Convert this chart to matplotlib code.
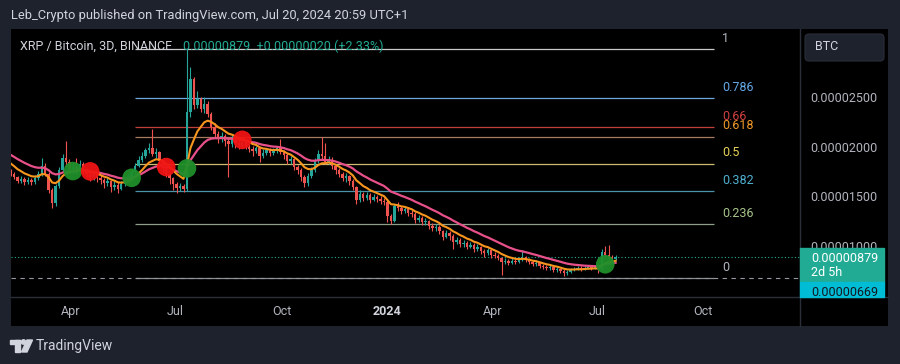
import matplotlib
matplotlib.use("Agg")
import matplotlib.pyplot as plt
import matplotlib.dates as mdates
from matplotlib.patches import Rectangle, FancyBboxPatch, Polygon, Circle
from matplotlib.lines import Line2D
from matplotlib.transforms import IdentityTransform
import numpy as np
import pandas as pd

plt.rcParams['font.family'] = ['Roboto', 'DejaVu Sans']

# XRP/BTC 3D candles, prices in satoshi (1e-8 BTC)
first_candle = '2023-02-08'
# closes before the visible window, only used to seed the moving averages
warmup_close = [2080, 2100, 2070, 2060, 2040, 2050, 2030, 2010, 2020, 1990,
                1980, 1960, 1940, 1950, 1920, 1880, 1850, 1810, 1780, 1750]

closes = [1720, 1690, 1650, 1670, 1640, 1660, 1640, 1680, 1720, 1800,
          1720, 1560, 1430, 1600, 1760, 1880, 1840, 1770, 1790, 1760,
          1820, 1750, 1720, 1690, 1720, 1680, 1660, 1630, 1650, 1590,
          1610, 1570, 1620, 1660, 1690, 1740, 1800, 1860, 1900, 1960,
          1980, 1920, 1940, 1850, 1780, 1720, 1680, 1620, 1580, 1600,
          1570, 2350, 2680, 2420, 2480, 2380, 2430, 2330, 2200, 2130,
          2080, 2110, 2060, 2030, 2080, 2040, 2010, 2050, 2000, 1970,
          1950, 1980, 1900, 1930, 1960, 1930, 1950, 1980, 1940, 1910,
          1850, 1870, 1790, 1760, 1690, 1630, 1700, 1760, 1850, 1920,
          1900, 1840, 1860, 1800, 1760, 1720, 1680, 1700, 1650, 1590,
          1460, 1520, 1480, 1510, 1460, 1490, 1470, 1450, 1440, 1300,
          1250, 1400, 1380, 1350, 1370, 1330, 1320, 1260, 1280, 1240,
          1250, 1200, 1180, 1190, 1150, 1090, 1130, 1100, 1040, 1060,
          1020, 1030, 990, 1010, 960, 990, 940, 920, 950, 900,
          890, 870, 830, 840, 820, 840, 830, 850, 880, 850,
          830, 810, 820, 790, 780, 770, 780, 750, 760, 740,
          720, 730, 750, 760, 770, 760, 770, 780, 770, 780,
          760, 930, 900, 880, 859, 879]

highs = [1770, 1740, 1700, 1700, 1690, 1690, 1680, 1710, 1750, 1880,
         1830, 1740, 1580, 1620, 1790, 1920, 2060, 1870, 1830, 1880,
         1860, 1840, 1780, 1760, 1750, 1740, 1710, 1680, 1690, 1660,
         1650, 1640, 1650, 1690, 1720, 1770, 1830, 1900, 1940, 1990,
         2040, 2180, 1990, 1950, 1870, 1800, 1740, 1690, 1640, 1630,
         1620, 2985, 2800, 2700, 2560, 2500, 2500, 2460, 2350, 2240,
         2160, 2150, 2130, 2100, 2120, 2110, 2070, 2080, 2070, 2030,
         2010, 2010, 1990, 1970, 1990, 1980, 1990, 2010, 2080, 1960,
         1930, 1900, 1880, 1810, 1780, 1710, 1730, 1790, 1880, 1960,
         2095, 2040, 1900, 1890, 1820, 1780, 1740, 1730, 1710, 1670,
         1600, 1560, 1540, 1540, 1530, 1520, 1510, 1500, 1480, 1460,
         1320, 1420, 1440, 1400, 1400, 1390, 1360, 1340, 1310, 1300,
         1280, 1260, 1230, 1220, 1210, 1160, 1160, 1150, 1120, 1090,
         1080, 1060, 1050, 1040, 1030, 1020, 1000, 960, 970, 960,
         930, 910, 880, 870, 860, 870, 860, 880, 950, 890,
         870, 850, 850, 830, 810, 800, 800, 790, 780, 770,
         760, 750, 770, 780, 790, 790, 790, 800, 800, 800,
         800, 960, 1000, 1010, 900, 900]

lows = [1700, 1670, 1630, 1630, 1610, 1620, 1610, 1620, 1660, 1700,
        1700, 1530, 1380, 1400, 1580, 1740, 1800, 1740, 1720, 1720,
        1740, 1720, 1690, 1650, 1660, 1640, 1620, 1580, 1600, 1540,
        1560, 1530, 1560, 1600, 1640, 1680, 1720, 1790, 1840, 1880,
        1930, 1900, 1880, 1810, 1740, 1690, 1620, 1560, 1530, 1550,
        1540, 1550, 2300, 2380, 2390, 2350, 2340, 2300, 2170, 2100,
        2040, 2050, 2010, 1690, 2000, 1990, 1970, 1990, 1970, 1940,
        1900, 1930, 1840, 1880, 1910, 1900, 1910, 1930, 1920, 1870,
        1820, 1820, 1760, 1720, 1650, 1590, 1600, 1680, 1740, 1830,
        1870, 1820, 1820, 1770, 1720, 1690, 1650, 1640, 1610, 1560,
        1420, 1440, 1450, 1460, 1430, 1450, 1440, 1420, 1410, 1240,
        1220, 1240, 1350, 1320, 1330, 1300, 1290, 1230, 1240, 1210,
        1210, 1170, 1150, 1150, 1120, 1060, 1080, 1060, 960, 1020,
        990, 990, 960, 970, 930, 940, 910, 880, 900, 870,
        870, 850, 700, 810, 800, 810, 810, 820, 840, 830,
        810, 790, 790, 770, 760, 750, 750, 730, 730, 720,
        690, 700, 720, 740, 750, 740, 750, 760, 750, 760,
        720, 750, 880, 850, 840, 850]

# EMA cross signals (candle index, bullish?)
signal_idx = [18, 23, 35, 45, 51, 67, 172]
signal_up = [True, False, True, False, True, False, True]

# fibonacci retracement
fib_low = 669
fib_high = 2985
fib_start = '2023-05-27'
fib_end = '2024-10-10'
fib_levels = [1, 0.786, 0.66, 0.618, 0.5, 0.382, 0.236, 0]
fib_line_colors = ['#c9c9c9', '#6fa8dc', '#c0403c', '#a87a62', '#cdbb72', '#4a93a8', '#8e9e88', '#8a8d96']
fib_text_colors = ['#b2b5be', '#64a8e8', '#d04040', '#f0982a', '#e8d25a', '#50b0d0', '#a6c48a', '#b2b5be']

last_price = 879
alert_price = 669
price_ticks = [1000, 1500, 2000, 2500]
date_ticks = ['2023-04-01', '2023-07-01', '2023-10-01', '2024-01-01', '2024-04-01', '2024-07-01', '2024-10-01']
date_labels = ['Apr', 'Jul', 'Oct', '2024', 'Apr', 'Jul', 'Oct']

UP = '#26a69a'
DOWN = '#ef5350'
W, H = 900, 364


def fx(x):
    return x / W


def fy(y):
    return 1 - y / H


fig = plt.figure(figsize=(9, 3.64), dpi=100)
fig.patch.set_facecolor('#1e222d')
fig.add_artist(Rectangle((fx(11), fy(326)), fx(888) - fx(11), fy(29) - fy(326),
                         transform=fig.transFigure, facecolor='black', zorder=-5))

ax = fig.add_axes([fx(11), fy(297), fx(800) - fx(11), fy(29) - fy(297)])
ax.set_facecolor('black')
for s in ax.spines.values():
    s.set_visible(False)

dates = pd.date_range(first_candle, periods=len(closes), freq='3D')
x = mdates.date2num(dates)
opens = [warmup_close[-1]] + closes[:-1]
o = np.array(opens, float)
c = np.array(closes, float)
hi = np.maximum(np.array(highs, float), np.maximum(o, c))
lo = np.minimum(np.array(lows, float), np.minimum(o, c))
cols = [UP if cc >= oo else DOWN for oo, cc in zip(o, c)]

ax.vlines(x, lo, hi, colors=cols, lw=0.8, zorder=2)
body = np.maximum(np.abs(c - o), 5)
ax.bar(x, body, bottom=np.minimum(o, c), width=2.1, color=cols, lw=0, zorder=2)

allc = pd.Series(warmup_close + closes, dtype=float)
ema_fast = allc.ewm(span=9, adjust=False).mean().values[len(warmup_close):]
ema_slow = allc.ewm(span=21, adjust=False).mean().values[len(warmup_close):]
ax.plot(x, ema_slow, color='#e8508a', lw=1.6, zorder=3)
ax.plot(x, ema_fast, color='#f7961e', lw=1.5, zorder=4)

sig_x = x[signal_idx]
sig_y = ema_slow[signal_idx]
sig_c = ['#1f8f2b' if u else '#f01414' for u in signal_up]
ax.scatter(sig_x, sig_y, s=180, c=sig_c, lw=0, alpha=0.95, zorder=5)

# fib levels
fx0 = mdates.datestr2num(fib_start)
fx1 = mdates.datestr2num(fib_end)
for lev, lc, tc in zip(fib_levels, fib_line_colors, fib_text_colors):
    v = fib_low + lev * (fib_high - fib_low)
    ax.hlines(v, fx0, fx1, colors=lc, lw=0.9, zorder=1)
    ax.annotate('%g' % lev, (fx1, v), xytext=(6, 3), textcoords='offset points',
                color=tc, fontsize=9, ha='left', va='bottom')

ax.axhline(last_price, color='#22ab94', lw=0.8, ls=(0, (1, 2)), zorder=1)
ax.axhline(alert_price, color='#9598a1', lw=0.8, ls=(0, (4, 4)), zorder=1)

ax.set_xlim(x[0] + 0.3, x[0] + 685)
ax.set_ylim(480, 3187)

ax.yaxis.tick_right()
ax.set_yticks(price_ticks)
ax.set_yticklabels(['%.8f' % (v * 1e-8) for v in price_ticks])
ax.tick_params(axis='y', length=0, pad=7.5, labelcolor='#b2b5be', labelsize=9)
ax.set_xticks(mdates.datestr2num(date_ticks))
ax.set_xticklabels(date_labels)
ax.tick_params(axis='x', length=0, pad=6, labelcolor='#b2b5be', labelsize=9)
lab = ax.get_xticklabels()[3]
lab.set_fontweight('bold')
lab.set_color('#d1d4dc')

# panel separators
fig.add_artist(Line2D([fx(800), fx(800)], [fy(29), fy(326)], color='#2a2e39', lw=1))
fig.add_artist(Line2D([fx(11), fx(888)], [fy(297), fy(297)], color='#2a2e39', lw=1))

# price labels on the scale
fig.add_artist(Rectangle((fx(800), fy(282)), fx(884) - fx(800), fy(248) - fy(282),
                         transform=fig.transFigure, color='#22ab94', zorder=3))
fig.text(fx(811), fy(258), '%.8f' % (last_price * 1e-8), color='white', fontsize=9, va='center', zorder=4)
fig.text(fx(811), fy(273), '2d 5h', color='white', fontsize=9, va='center', zorder=4)
cy = Rectangle((fx(800), fy(297)), fx(884) - fx(800), fy(282) - fy(297),
               transform=fig.transFigure, color='#00bcd4', zorder=3)
fig.add_artist(cy)
t = fig.text(fx(811), fy(292), '%.8f' % (alert_price * 1e-8), color='#131722', fontsize=9, va='center', zorder=4)
t.set_clip_path(cy)

fig.add_artist(FancyBboxPatch((805, H - 61), 79, 27, boxstyle='round,pad=0,rounding_size=4',
                              transform=IdentityTransform(), facecolor='#1e222d', edgecolor='#2a2e39', lw=0.8))
fig.text(fx(815), fy(47), 'BTC', color='#d1d4dc', fontsize=9, va='center')

# header / legend
fig.text(fx(11), fy(16), 'Leb_Crypto published on TradingView.com, Jul 20, 2024 20:59 UTC+1',
         color='#d1d4dc', fontsize=9.3, va='center')
fig.text(fx(20), fy(46), 'XRP / Bitcoin, 3D, BINANCE', color='#d1d4dc', fontsize=9, va='center')
fig.text(fx(183), fy(46), '0.00000879  +0.00000020 (+2.33%)', color='#22ab94', fontsize=9, va='center')

# footer logo
idt = IdentityTransform()
logo = '#d1d4dc'
fig.add_artist(Rectangle((10, H - 344), 10, 4, transform=idt, color=logo))
fig.add_artist(Rectangle((15, H - 352), 4.5, 12, transform=idt, color=logo))
fig.add_artist(Circle((23.5, H - 342), 2.2, transform=idt, color=logo))
fig.add_artist(Polygon([(27, H - 340), (32.5, H - 340), (27, H - 352), (21.5, H - 352)],
                       closed=True, transform=idt, color=logo))
fig.text(fx(36), fy(346), 'TradingView', color='#d1d4dc', fontsize=10, va='center')

fig.savefig('out.png', dpi=100, facecolor=fig.get_facecolor())
